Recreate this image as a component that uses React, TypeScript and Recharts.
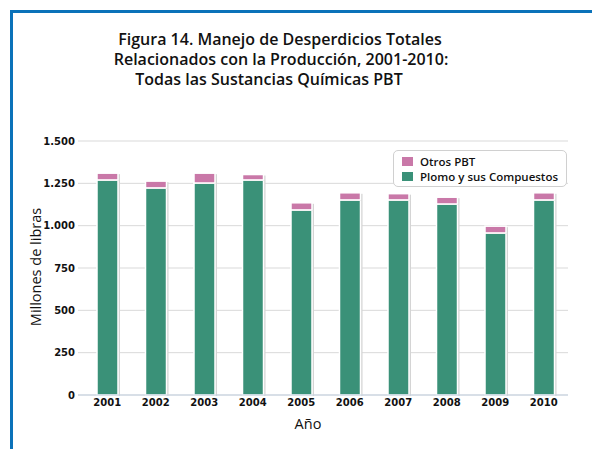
import React from 'react';
import { BarChart, Bar, XAxis, YAxis, CartesianGrid } from 'recharts';

const years = ['2001', '2002', '2003', '2004', '2005', '2006', '2007', '2008', '2009', '2010'];
const plomo = [1270, 1223, 1252, 1270, 1093, 1152, 1152, 1128, 957, 1152];
const otros = [40, 40, 58, 32, 42, 42, 37, 40, 40, 42];
const yTicks = [0, 250, 500, 750, 1000, 1250, 1500];
const titleLines = [
  'Figura 14. Manejo de Desperdicios Totales',
  'Relacionados con la Producción, 2001-2010:',
  'Todas las Sustancias Químicas PBT',
];
// the last title line sits a little left of centre in the original
const titleShift = [0, 2, -22];

const GREEN = '#3a9178';
const PINK = '#c978a8';
const FONT = '"Open Sans", "DejaVu Sans", sans-serif';

const data = years.map((year, i) => ({ year, plomo: plomo[i], otros: otros[i] }));

const fmt = (v: number) => v.toLocaleString('de-DE');

const renderBar = (props: any) => {
  const { x, y, width, height, fill } = props;
  if (!height || height <= 0) return <g />;
  return (
    <g>
      <rect x={x + 2} y={y + 1} width={width} height={height} fill="#d4d4d4" />
      <rect x={x} y={y} width={width} height={height} fill={fill} stroke="#fff" strokeWidth={1.5} />
    </g>
  );
};

const App: React.FC = () => {
  return (
    <div style={{ position: 'absolute', left: 0, top: 0, width: 592, height: 449, background: '#fff', overflow: 'hidden', fontFamily: FONT }}>
      <div style={{ position: 'absolute', left: 10, top: 10, right: -10, bottom: -10, borderLeft: '3px solid #0b72b9', borderTop: '3px solid #0b72b9' }} />
      <div style={{ position: 'absolute', left: 0, top: 29, width: 560, textAlign: 'center', fontSize: 16, lineHeight: '20px', color: '#111', fontWeight: 600 }}>
        {titleLines.map((t, i) => (
          <div key={t} style={{ position: 'relative', left: titleShift[i] / 2 }}>{t}</div>
        ))}
      </div>
      <div style={{ position: 'absolute', left: 0, top: 0 }}>
        <BarChart width={592} height={449} data={data} margin={{ top: 141, right: 24, bottom: 0, left: 0 }} barSize={21}>
          <CartesianGrid vertical={false} stroke="#d9d9d9" />
          <XAxis
            dataKey="year"
            padding={{ left: 5, right: 0 }}
            axisLine={{ stroke: '#c4d2e2' }}
            tickLine={false}
            tickSize={0}
            tick={{ fontSize: 10, fontWeight: 'bold', fill: '#111', fontFamily: '"DejaVu Sans", sans-serif' }}
            tickMargin={4}
            height={54}
          />
          <YAxis
            type="number"
            domain={[0, 1500]}
            ticks={yTicks}
            tickFormatter={fmt}
            axisLine={false}
            tickLine={false}
            tickSize={0}
            width={78}
            tick={{ fontSize: 10, fontWeight: 'bold', fill: '#111', fontFamily: '"DejaVu Sans", sans-serif' }}
            tickMargin={3}
          />
          <Bar dataKey="plomo" stackId="a" fill={GREEN} shape={renderBar} isAnimationActive={false} />
          <Bar dataKey="otros" stackId="a" fill={PINK} shape={renderBar} isAnimationActive={false} />
        </BarChart>
      </div>
      <div style={{ position: 'absolute', left: 35, top: 267, transform: 'translate(-50%, -50%) rotate(-90deg)', fontSize: 14.5, color: '#111', whiteSpace: 'nowrap' }}>
        Millones de libras
      </div>
      <div style={{ position: 'absolute', left: 308, top: 423, transform: 'translate(-50%, -50%)', fontSize: 14.5, color: '#111' }}>
        Año
      </div>
      <div style={{ position: 'absolute', left: 393, top: 150, width: 174, height: 37, border: '1px solid #d0d0d0', borderRadius: 5, background: '#fff', fontSize: 11.5, fontWeight: 600, color: '#111', boxSizing: 'border-box', padding: '3px 0 0 8px', lineHeight: '15px' }}>
        {[{ name: 'Otros PBT', color: PINK }, { name: 'Plomo y sus Compuestos', color: GREEN }].map((it) => (
          <div key={it.name} style={{ display: 'flex', alignItems: 'center' }}>
            <span style={{ display: 'inline-block', width: 11, height: 9, background: it.color, marginRight: 7 }} />
            {it.name}
          </div>
        ))}
      </div>
    </div>
  );
};

export default App;
